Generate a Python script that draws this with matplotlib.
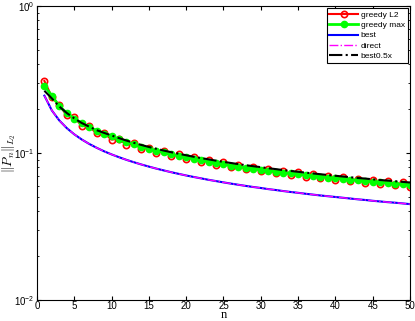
import numpy as np
import matplotlib
matplotlib.use("Agg")
import matplotlib.pyplot as plt

plt.rcParams['font.family'] = ['Liberation Sans', 'DejaVu Sans']
plt.rcParams['mathtext.fontset'] = 'cm'

n = np.arange(1, 51)

greedy_l2 = [0.309, 0.240, 0.2118, 0.1802, 0.1744, 0.1533, 0.1518, 0.1358, 0.1365, 0.1233,
             0.1250, 0.1139, 0.1161, 0.1063, 0.1089, 0.1001, 0.1029, 0.0949, 0.0979, 0.0905,
             0.0934, 0.0866, 0.0896, 0.0832, 0.0862, 0.0801, 0.0832, 0.0774, 0.0805, 0.0751,
             0.0781, 0.0728, 0.0758, 0.0708, 0.0737, 0.0689, 0.0719, 0.0672, 0.0701, 0.0656,
             0.0685, 0.0642, 0.0670, 0.0628, 0.0656, 0.0614, 0.0643, 0.0603, 0.0630, 0.0591]

greedy_max = [0.2868, 0.2450, 0.2080, 0.1870, 0.1715, 0.1595, 0.1500, 0.1420, 0.1350, 0.1300,
              0.1240, 0.1190, 0.1145, 0.1105, 0.1070, 0.1038, 0.1008, 0.0980, 0.0955, 0.0932,
              0.0910, 0.0890, 0.0870, 0.0853, 0.0837, 0.0822, 0.0808, 0.0794, 0.0782, 0.0770,
              0.0758, 0.0747, 0.0736, 0.0726, 0.0716, 0.0707, 0.0698, 0.0689, 0.0681, 0.0673,
              0.0665, 0.0658, 0.0650, 0.0644, 0.0637, 0.0630, 0.0624, 0.0618, 0.0612, 0.0606]

best = [0.2454, 0.1947, 0.1664, 0.1476, 0.1340, 0.1236, 0.1153, 0.1085, 0.1027, 0.0978,
        0.0936, 0.0898, 0.0865, 0.0835, 0.0808, 0.0783, 0.0761, 0.0740, 0.0721, 0.0703,
        0.0687, 0.0672, 0.0657, 0.0644, 0.0631, 0.0619, 0.0608, 0.0597, 0.0587, 0.0578,
        0.0568, 0.0560, 0.0551, 0.0543, 0.0536, 0.0528, 0.0521, 0.0514, 0.0508, 0.0502,
        0.0496, 0.0490, 0.0484, 0.0479, 0.0473, 0.0468, 0.0463, 0.0459, 0.0454, 0.0449]

direct = list(best)

best_half = [0.265, 0.235, 0.207, 0.187, 0.172, 0.160, 0.151, 0.143, 0.137, 0.1316,
             0.1263, 0.1215, 0.1172, 0.1134, 0.1099, 0.1068, 0.1039, 0.1012, 0.0988, 0.0965,
             0.0943, 0.0924, 0.0905, 0.0887, 0.0870, 0.0855, 0.0840, 0.0826, 0.0813, 0.0801,
             0.0788, 0.0777, 0.0765, 0.0755, 0.0745, 0.0735, 0.0726, 0.0717, 0.0708, 0.0700,
             0.0692, 0.0684, 0.0676, 0.0670, 0.0662, 0.0655, 0.0649, 0.0643, 0.0636, 0.0630]

fig = plt.figure(figsize=(4.15, 3.21), dpi=100)
ax = fig.add_axes([0.089, 0.0654, 0.899, 0.916])

ax.plot(n, greedy_l2, '-o', color='red', lw=1.5, ms=4.5, mfc='none', mew=1.2, label='greedy L2')
ax.plot(n, greedy_max, '-o', color=(0, 1, 0), lw=2, ms=4.5, mfc=(0, 1, 0), mec=(0, 1, 0), label='greedy max')
ax.plot(n, best, '-', color='blue', lw=1.5, label='best')
ax.plot(n, direct, '-.', color='magenta', lw=1, label='direct')
ax.plot(n, best_half, '-.', color='black', lw=1.5, label='best0.5x')

ax.set_yscale('log')
ax.set_xlim(0, 50)
ax.set_ylim(1e-2, 1)
ax.set_xticks(np.arange(0, 51, 5))
ax.tick_params(which='both', direction='in', top=True, right=True, labelsize=7)
ax.tick_params(axis='x', pad=1)
ax.tick_params(axis='y', pad=1.5)
ax.tick_params(which='major', length=3)
ax.tick_params(which='minor', length=1.5)

ax.set_xlabel('n', fontsize=9, family='Liberation Serif', va='bottom')
ax.xaxis.set_label_coords(0.5, -0.07)
ax.set_ylabel(r'$\|P_n\|_{L_2}$', fontsize=9.5)
ax.yaxis.set_label_coords(-0.052, 0.5)

leg = ax.legend(loc='upper right', fontsize=6, handlelength=3.5, handletextpad=0.3,
                fancybox=False, edgecolor='black', framealpha=1, borderaxespad=0.3,
                labelspacing=0.3, borderpad=0.3)
leg.get_frame().set_linewidth(0.8)

fig.savefig("out.png", dpi=100)
